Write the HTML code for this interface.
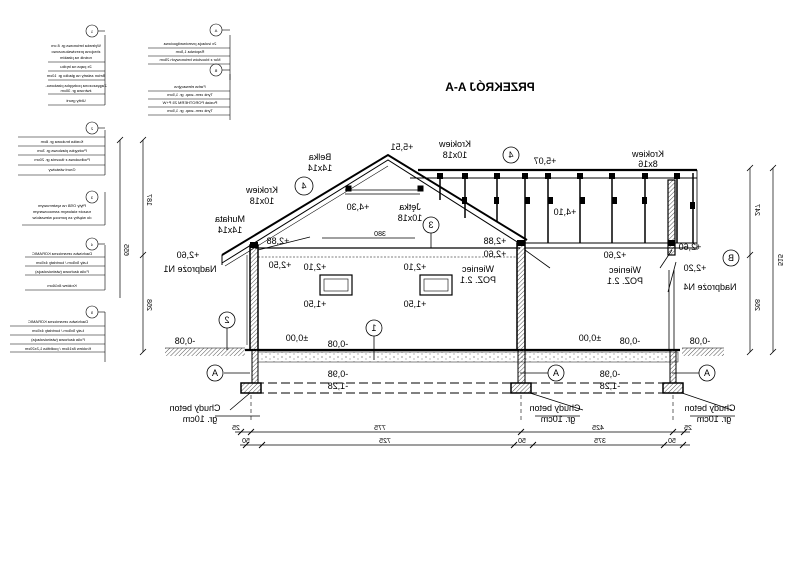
<!DOCTYPE html>
<html><head><meta charset="utf-8"><style>
html,body{margin:0;padding:0;background:#fff;}
svg{display:block;}
text{font-family:"Liberation Sans",sans-serif;fill:#000;}
.s{font-size:4px;}
.m{font-size:9px;}
.l{font-size:10px;}
</style></head><body>
<svg width="800" height="565" viewBox="0 0 800 565" xmlns="http://www.w3.org/2000/svg">
<defs>
<pattern id="h" width="3" height="3" patternUnits="userSpaceOnUse" patternTransform="rotate(45)"><line x1="0" y1="0" x2="0" y2="3" stroke="#555" stroke-width="1"/></pattern>
<pattern id="d" width="8" height="5" patternUnits="userSpaceOnUse"><circle cx="2" cy="2" r="0.6" fill="#444"/><circle cx="6" cy="4" r="0.5" fill="#444"/></pattern>
</defs>
<g stroke="#000" fill="none">
<!-- notes left -->
<g stroke-width="0.6">
<path d="M105 35 V105 M48 62 H105 M48 71 H105 M48 80 H105 M48 94 H105 M48 105 H105"/>
<circle cx="92" cy="31" r="6"/><path d="M98 31 H105"/>
<path d="M230 35 V80 M148 48 H230 M148 56 H230 M148 64 H230"/>
<circle cx="216" cy="30" r="6"/><path d="M222 30 H230"/>
<path d="M230 74 V120 M148 91 H230 M148 99 H230 M148 107 H230 M148 115 H230"/>
<circle cx="216" cy="70" r="6"/><path d="M222 70 H230"/>
<path d="M105 130 V175 M18 137 H105 M18 146 H105 M18 155 H105 M18 165 H105 M18 175 H105"/>
<circle cx="92" cy="128" r="6"/><path d="M98 128 H105"/>
<path d="M105 192 V225 M22 225 H105"/>
<circle cx="92" cy="197" r="6"/>
<path d="M105 245 V290 M25 257 H105 M25 266 H105 M25 275 H105 M25 290 H105"/>
<circle cx="92" cy="244" r="6"/><path d="M98 244 H105"/>
<path d="M105 312 V362 M10 326 H105 M10 335 H105 M10 344 H105 M10 352 H105"/>
<circle cx="92" cy="312" r="6"/><path d="M98 312 H105"/>
</g>
<!-- left dims -->
<path d="M120 140 V298 M143 140 V352" stroke-width="0.7"/>
<path d="M117 143 L123 137 M140 143 L146 137 M140 258 L146 252 M140 355 L146 349" stroke-width="0.8"/>
<!-- right dims -->
<path d="M750 168 V352 M773 168 V352" stroke-width="0.7"/>
<path d="M747 171 L753 165 M770 171 L776 165 M747 258 L753 252 M747 355 L753 349 M770 355 L776 349" stroke-width="0.8"/>
<!-- ground -->
<rect x="165" y="348" width="80" height="8" fill="url(#h)" stroke="none"/>
<path d="M165 348 H245" stroke-width="0.6"/>
<rect x="682" y="348" width="42" height="8" fill="url(#h)" stroke="none"/>
<path d="M682 348 H724" stroke-width="0.6"/>
<!-- slab -->
<rect x="258" y="352" width="420" height="10" fill="url(#d)" stroke-width="0.5"/>
<path d="M245 350 H680" stroke-width="2.2"/>
<!-- dashed foundation -->
<path d="M255 383 H682 M255 393 H682" stroke-width="1" stroke-dasharray="9 4"/>
<!-- walls -->
<rect x="250" y="245" width="8" height="105" fill="url(#h)" stroke-width="1.5"/>
<rect x="252" y="350" width="6" height="33" fill="url(#h)" stroke-width="1"/>
<rect x="241" y="383" width="20" height="10" fill="url(#h)" stroke-width="1.5"/>
<rect x="517" y="243" width="8" height="107" fill="url(#h)" stroke-width="1.5"/>
<rect x="518" y="350" width="7" height="33" fill="url(#h)" stroke-width="1"/>
<rect x="511" y="383" width="20" height="10" fill="url(#h)" stroke-width="1.5"/>
<rect x="668" y="180" width="7" height="75" fill="url(#h)" stroke-width="1.2"/>
<path d="M669 270 V350 M674 270 V350" stroke-width="0.8"/>
<rect x="670" y="350" width="6" height="33" fill="url(#h)" stroke-width="1"/>
<rect x="663" y="383" width="20" height="10" fill="url(#h)" stroke-width="1.5"/>
<path d="M247 255 V345" stroke-width="0.6"/>
<!-- centerlines -->
<path d="M251 395 V420 M521 395 V420 M673 395 V420" stroke-width="0.6" stroke-dasharray="4 3"/>
<!-- ceiling -->
<path d="M255 248 H520" stroke-width="1.3"/>
<path d="M258 257 H517" stroke-width="0.6" stroke-dasharray="2 1.5"/>
<!-- gable roof -->
<path d="M222 255 L388 155 L527 240" stroke-width="2"/>
<path d="M222 263 L388 160 L522 245" stroke-width="1"/>
<path d="M225 266 L388 166" stroke-width="0.6"/>
<path d="M222 255 V265" stroke-width="1"/>
<path d="M345 190 H420 M345 194 H420" stroke-width="0.8"/>
<rect x="346" y="186" width="5" height="5" fill="#000"/><rect x="418" y="186" width="5" height="5" fill="#000"/>
<!-- flat roof -->
<path d="M418 170 H697" stroke-width="2.2"/>
<path d="M410 178 H697" stroke-width="0.9"/>
<path d="M525 243 H697 M525 248 H697" stroke-width="1"/>
<path d="M697 170 V250" stroke-width="0.8"/>
<g stroke-width="1.5">
<path d="M440 173 V200 M465 173 V218 M497 173 V222 M525 173 V243 M548 173 V243 M580 173 V243 M612 173 V243 M645 173 V243 M677 173 V243 M693 173 V243"/>
</g>
<g fill="#000" stroke="none">
<rect x="437" y="173" width="6" height="6"/><rect x="462" y="173" width="6" height="6"/><rect x="494" y="173" width="6" height="6"/><rect x="522" y="173" width="6" height="6"/><rect x="545" y="173" width="6" height="6"/><rect x="577" y="173" width="6" height="6"/><rect x="609" y="173" width="6" height="6"/><rect x="642" y="173" width="6" height="6"/><rect x="674" y="173" width="6" height="6"/>
<rect x="462" y="197" width="5" height="7"/><rect x="494" y="197" width="5" height="7"/><rect x="525" y="197" width="5" height="7"/><rect x="548" y="197" width="5" height="7"/><rect x="580" y="197" width="5" height="7"/><rect x="612" y="197" width="5" height="7"/><rect x="642" y="197" width="5" height="7"/><rect x="690" y="202" width="5" height="7"/>
<rect x="250" y="242" width="8" height="6"/><rect x="517" y="240" width="8" height="6"/><rect x="668" y="240" width="7" height="6"/>
</g>
<!-- windows -->
<rect x="320" y="275" width="32" height="20" stroke-width="1.2"/><rect x="324" y="279" width="24" height="12" stroke-width="0.6"/>
<rect x="420" y="275" width="32" height="20" stroke-width="1.2"/><rect x="424" y="279" width="24" height="12" stroke-width="0.6"/>
<!-- labels circles -->
<g stroke-width="0.8">
<circle cx="304" cy="186" r="9"/><circle cx="431" cy="225" r="8"/><circle cx="511" cy="155" r="8"/><circle cx="374" cy="328" r="8"/><circle cx="227" cy="320" r="8"/>
<circle cx="215" cy="373" r="8"/><circle cx="556" cy="373" r="8"/><circle cx="707" cy="373" r="8"/><circle cx="731" cy="258" r="8"/>
<path d="M374 336 V360 M431 233 V248 M227 328 V350 M224 373 H250 M548 373 H520 M699 373 H672"/>
<path d="M230 410 L250 393 M583 410 L530 393 M732 410 L682 393 M215 416 H260 M535 416 H580 M690 416 H735"/>
<path d="M322 238 H415"/>
<path d="M310 237 L258 250 M550 268 L525 250 M660 268 L672 250 M668 292 L676 262"/>
</g>
<!-- bottom dims -->
<path d="M235 432 H690 M240 445 H690" stroke-width="0.7"/>
<path d="M238 435 L244 429 M248 435 L254 429 M518 435 L524 429 M670 435 L676 429 M681 435 L687 429 M243 448 L249 442 M259 448 L265 442 M511 448 L517 442 M530 448 L536 442 M661 448 L667 442 M680 448 L686 442" stroke-width="0.9"/>
</g>
<!-- text mirrored -->
<g text-anchor="middle">
<text class="l" font-weight="bold" transform="translate(490 91) scale(-1 1)" style="font-size:12px">PRZEKRÓJ A-A</text>
<g class="m">
<text transform="translate(402 150) scale(-1 1)">+5,51</text>
<text transform="translate(455 147) scale(-1 1)">Krokiew</text>
<text transform="translate(455 158) scale(-1 1)">10x18</text>
<text transform="translate(320 160) scale(-1 1)">Belka</text>
<text transform="translate(320 171) scale(-1 1)">14x14</text>
<text transform="translate(262 193) scale(-1 1)">Krokiew</text>
<text transform="translate(262 204) scale(-1 1)">10x18</text>
<text transform="translate(230 222) scale(-1 1)">Murłata</text>
<text transform="translate(230 233) scale(-1 1)">14x14</text>
<text transform="translate(358 210) scale(-1 1)">+4,30</text>
<text transform="translate(410 210) scale(-1 1)">Jętka</text>
<text transform="translate(410 221) scale(-1 1)">10x18</text>
<text transform="translate(278 244) scale(-1 1)">+2,88</text>
<text transform="translate(188 258) scale(-1 1)">+2,60</text>
<text transform="translate(190 272) scale(-1 1)">Nadproże N1</text>
<text transform="translate(280 268) scale(-1 1)">+2,50</text>
<text transform="translate(315 270) scale(-1 1)">+2,10</text>
<text transform="translate(415 270) scale(-1 1)">+2,10</text>
<text transform="translate(315 307) scale(-1 1)">+1,50</text>
<text transform="translate(415 307) scale(-1 1)">+1,50</text>
<text transform="translate(495 244) scale(-1 1)">+2,88</text>
<text transform="translate(495 257) scale(-1 1)">+2,60</text>
<text transform="translate(478 272) scale(-1 1)">Wieniec</text>
<text transform="translate(478 283) scale(-1 1)">POZ. 2.1</text>
<text transform="translate(545 164) scale(-1 1)">+5,07</text>
<text transform="translate(648 157) scale(-1 1)">Krokiew</text>
<text transform="translate(648 167) scale(-1 1)">8x16</text>
<text transform="translate(565 215) scale(-1 1)">+4,10</text>
<text transform="translate(615 258) scale(-1 1)">+2,60</text>
<text transform="translate(690 250) scale(-1 1)">+2,60</text>
<text transform="translate(695 271) scale(-1 1)">+2,20</text>
<text transform="translate(625 273) scale(-1 1)">Wieniec</text>
<text transform="translate(625 284) scale(-1 1)">POZ. 2.1</text>
<text transform="translate(710 290) scale(-1 1)">Nadproże N4</text>
<text transform="translate(185 344) scale(-1 1)">-0,08</text>
<text transform="translate(297 341) scale(-1 1)">±0,00</text>
<text transform="translate(338 347) scale(-1 1)">-0,08</text>
<text transform="translate(590 341) scale(-1 1)">±0,00</text>
<text transform="translate(630 344) scale(-1 1)">-0,08</text>
<text transform="translate(700 344) scale(-1 1)">-0,08</text>
<text transform="translate(338 377) scale(-1 1)">-0,98</text>
<text transform="translate(338 389) scale(-1 1)">-1,28</text>
<text transform="translate(610 377) scale(-1 1)">-0,98</text>
<text transform="translate(610 389) scale(-1 1)">-1,28</text>
<text transform="translate(195 411) scale(-1 1)">Chudy beton</text>
<text transform="translate(200 422) scale(-1 1)">gr. 10cm</text>
<text transform="translate(555 411) scale(-1 1)">Chudy beton</text>
<text transform="translate(558 422) scale(-1 1)">gr. 10cm</text>
<text transform="translate(710 411) scale(-1 1)">Chudy beton</text>
<text transform="translate(714 422) scale(-1 1)">gr. 10cm</text>
<text transform="translate(304 189) scale(-1 1)">4</text>
<text transform="translate(431 228) scale(-1 1)">3</text>
<text transform="translate(511 158) scale(-1 1)">4</text>
<text transform="translate(374 331) scale(-1 1)">1</text>
<text transform="translate(227 323) scale(-1 1)">2</text>
<text transform="translate(215 376) scale(-1 1)">A</text>
<text transform="translate(556 376) scale(-1 1)">A</text>
<text transform="translate(707 376) scale(-1 1)">A</text>
<text transform="translate(731 261) scale(-1 1)">B</text>
</g>
<g style="font-size:7px">
<text transform="translate(380 236) scale(-1 1)">380</text>
<text transform="translate(236 430) scale(-1 1)">25</text>
<text transform="translate(380 430) scale(-1 1)">775</text>
<text transform="translate(598 430) scale(-1 1)">425</text>
<text transform="translate(688 430) scale(-1 1)">25</text>
<text transform="translate(246 443) scale(-1 1)">50</text>
<text transform="translate(385 443) scale(-1 1)">725</text>
<text transform="translate(522 443) scale(-1 1)">50</text>
<text transform="translate(600 443) scale(-1 1)">375</text>
<text transform="translate(672 443) scale(-1 1)">50</text>
<text transform="translate(124 250) rotate(90) scale(-1 1)">655</text>
<text transform="translate(147 200) rotate(90) scale(-1 1)">187</text>
<text transform="translate(147 305) rotate(90) scale(-1 1)">268</text>
<text transform="translate(755 210) rotate(90) scale(-1 1)">247</text>
<text transform="translate(755 305) rotate(90) scale(-1 1)">268</text>
<text transform="translate(778 260) rotate(90) scale(-1 1)">515</text>
</g>
<g class="s">
<text transform="translate(76 47) scale(-1 1)">Wylewka betonowa gr. 8 cm</text>
<text transform="translate(76 53) scale(-1 1)">zbrojona przeciwskurczowo</text>
<text transform="translate(76 59) scale(-1 1)">nośnik na płaskim</text>
<text transform="translate(76 68) scale(-1 1)">2x papa na lepiku</text>
<text transform="translate(76 77) scale(-1 1)">Beton zatarty na gładko gr. 10cm</text>
<text transform="translate(76 87) scale(-1 1)">Zagęszczona podsypka piaskowo-</text>
<text transform="translate(76 92) scale(-1 1)">żwirowa gr. 30cm</text>
<text transform="translate(76 102) scale(-1 1)">Ubity grunt</text>
<text transform="translate(190 45) scale(-1 1)">2x izolacja przeciwwilgociowa</text>
<text transform="translate(190 53) scale(-1 1)">Rapówka 1,5cm</text>
<text transform="translate(190 61) scale(-1 1)">Mur z bloczków betonowych 25cm</text>
<text transform="translate(190 88) scale(-1 1)">Farba elewacyjna</text>
<text transform="translate(190 96) scale(-1 1)">Tynk cem.-wap. gr. 1,5cm</text>
<text transform="translate(190 104) scale(-1 1)">Pustak POROTHERM 25 P+W</text>
<text transform="translate(190 112) scale(-1 1)">Tynk cem.-wap. gr. 1,5cm</text>
<text transform="translate(62 143) scale(-1 1)">Kostka brukowa gr. 8cm</text>
<text transform="translate(62 152) scale(-1 1)">Podsypka piaskowa gr. 3cm</text>
<text transform="translate(62 161) scale(-1 1)">Podbudowa z tłucznia gr. 20cm</text>
<text transform="translate(62 171) scale(-1 1)">Grunt właściwy</text>
<text transform="translate(62 207) scale(-1 1)">Płyty OSB na systemowym</text>
<text transform="translate(62 213) scale(-1 1)">ruszcie stalowym zamocowanym</text>
<text transform="translate(62 219) scale(-1 1)">do więźby za pomocą wieszaków</text>
<text transform="translate(62 255) scale(-1 1)">Dachówka ceramiczna KORAMIC</text>
<text transform="translate(62 264) scale(-1 1)">Łaty 5x5cm / kontrłaty 4x5cm</text>
<text transform="translate(62 273) scale(-1 1)">Folia dachowa (wiatroizolacja)</text>
<text transform="translate(62 287) scale(-1 1)">Krokiew 8x16cm</text>
<text transform="translate(58 323) scale(-1 1)">Dachówka ceramiczna KORAMIC</text>
<text transform="translate(58 332) scale(-1 1)">Łaty 5x5cm / kontrłaty 4x5cm</text>
<text transform="translate(58 341) scale(-1 1)">Folia dachowa (wiatroizolacja)</text>
<text transform="translate(58 350) scale(-1 1)">Krokiew 8x16cm / podbitka 1,2x20cm</text>
<text transform="translate(92 33) scale(-1 1)">1</text>
<text transform="translate(216 32) scale(-1 1)">A</text>
<text transform="translate(216 72) scale(-1 1)">B</text>
<text transform="translate(92 130) scale(-1 1)">2</text>
<text transform="translate(92 199) scale(-1 1)">3</text>
<text transform="translate(92 246) scale(-1 1)">4</text>
<text transform="translate(92 314) scale(-1 1)">5</text>
</g>
</g>
</svg>
</body></html>
